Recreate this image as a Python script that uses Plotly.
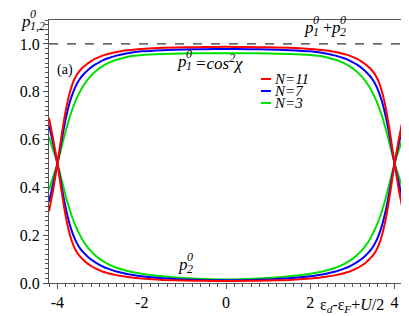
import plotly.graph_objects as go

# ---------------- data ----------------
x_half = [-4.2, -4.15, -4.1, -4.05, -4.0, -3.95, -3.9, -3.85, -3.8, -3.75, -3.7,
          -3.65, -3.6, -3.55, -3.5, -3.45, -3.4, -3.3, -3.2, -3.1, -3.0, -2.9,
          -2.8, -2.6, -2.4, -2.2, -2.0, -1.5, -1.0, -0.5, 0.0]

p1_N11_half = [0.30, 0.345, 0.39, 0.445, 0.50, 0.558, 0.618, 0.674, 0.724, 0.766, 0.801,
               0.829, 0.851, 0.868, 0.881, 0.892, 0.901, 0.916, 0.928, 0.938, 0.946, 0.953,
               0.958, 0.966, 0.972, 0.976, 0.979, 0.984, 0.986, 0.987, 0.988]
p1_N7_half = [0.34, 0.378, 0.418, 0.458, 0.50, 0.5475, 0.597, 0.645, 0.689, 0.727, 0.76,
              0.787, 0.81, 0.829, 0.845, 0.858, 0.869, 0.887, 0.902, 0.914, 0.924, 0.933,
              0.940, 0.951, 0.959, 0.965, 0.969, 0.974, 0.977, 0.978, 0.979]
p1_N3_half = [0.39, 0.418, 0.445, 0.472, 0.50, 0.533, 0.5685, 0.604, 0.638, 0.6695, 0.6985,
              0.7245, 0.748, 0.769, 0.788, 0.805, 0.8205, 0.8465, 0.8675, 0.8845, 0.8985, 0.910,
              0.9195, 0.9335, 0.9435, 0.950, 0.954, 0.958, 0.960, 0.961, 0.961]

p2_N11_half = [0.69, 0.645, 0.60, 0.55, 0.50, 0.442, 0.382, 0.326, 0.276, 0.234, 0.199,
               0.171, 0.149, 0.132, 0.119, 0.108, 0.099, 0.083, 0.071, 0.061, 0.053, 0.046,
               0.041, 0.033, 0.027, 0.022, 0.019, 0.013, 0.010, 0.009, 0.008]
p2_N7_half = [0.66, 0.622, 0.582, 0.542, 0.50, 0.452, 0.403, 0.355, 0.311, 0.273, 0.24,
              0.213, 0.19, 0.171, 0.155, 0.142, 0.131, 0.113, 0.098, 0.086, 0.076, 0.067,
              0.060, 0.048, 0.040, 0.033, 0.028, 0.020, 0.015, 0.012, 0.011]
p2_N3_half = [0.61, 0.582, 0.555, 0.528, 0.50, 0.467, 0.431, 0.396, 0.362, 0.33, 0.301,
              0.275, 0.252, 0.231, 0.212, 0.195, 0.179, 0.153, 0.132, 0.115, 0.101, 0.089,
              0.079, 0.064, 0.053, 0.045, 0.039, 0.028, 0.021, 0.017, 0.015]

series_names = ["N=11", "N=7", "N=3"]
series_colors = ["#ff0000", "#0000ff", "#00e000"]
x_range = [-4.2, 4.2]
y_range = [0.0, 1.1]
x_tickvals = [-4, -2, 0, 2, 4]
x_ticktext = ["-4", "-2", "0", "2", "4"]
sum_level = 1.0


def mirror(xs, ys):
    """curves are symmetric about 0: build full curve from the left half"""
    fx = xs + [-v for v in reversed(xs[:-1])]
    fy = ys + list(reversed(ys[:-1]))
    return fx, fy


p1_sets = [p1_N11_half, p1_N7_half, p1_N3_half]
p2_sets = [p2_N11_half, p2_N7_half, p2_N3_half]

SERIF = "Liberation Serif"

fig = go.Figure()

# dashed p1+p2 = 1 line
fig.add_trace(go.Scatter(x=x_range, y=[sum_level, sum_level], mode="lines",
                         line=dict(color="black", width=1, dash="dash"),
                         showlegend=False, hoverinfo="skip"))

# draw green first so red ends on top
for i in [2, 1, 0]:
    for ys in (p1_sets[i], p2_sets[i]):
        fx, fy = mirror(x_half, ys)
        fig.add_trace(go.Scatter(x=fx, y=fy, mode="lines",
                                 line=dict(color=series_colors[i], width=2, shape="spline",
                                           smoothing=0.6),
                                 name=series_names[i], showlegend=False))

# invisible trace on the overlay axes that carry the minor ticks
fig.add_trace(go.Scatter(x=x_range, y=y_range, xaxis="x2", yaxis="y2", mode="lines",
                         line=dict(width=0), opacity=0, showlegend=False,
                         hoverinfo="skip"))

# plot-area geometry (pixels)
W, H = 409, 316
L, R, T, B = 41, 14, 12, 41
PW, PH = W - L - R, H - T - B


def px(xp):
    return (xp - L) / PW


def py(yp):
    return (H - B - yp) / PH


ann = []


def text(xp, yp, s, size, italic=False, anchor="left"):
    ann.append(dict(x=px(xp), y=py(yp), xref="paper", yref="paper",
                    text=f"<i>{s}</i>" if italic else s,
                    showarrow=False, xanchor=anchor, yanchor="middle",
                    font=dict(family=SERIF, size=size, color="black")))


def stacked_p(xp, yp, sup, sub, size=17):
    # 'p' with superscript and subscript stacked on top of each other
    text(xp, yp, "p", size, italic=True)
    text(xp + 0.5 * size, yp - 0.42 * size, sup, round(size * 0.68), italic=True)
    text(xp + 0.5 * size, yp + 0.28 * size, sub, round(size * 0.68), italic=True)


# y axis label  p^0_{1,2}
stacked_p(11, 13, "0", "1,2", 17)
# (a)
text(47, 62, "(a)", 14)
# p1^0 + p2^0
stacked_p(294, 19, "0", "1", 17)
text(313, 19, "+", 16)
stacked_p(321, 19, "0", "2", 17)
# p1^0 = cos^2 chi
stacked_p(167, 53, "0", "1", 17)
text(185, 54, "=cos<sup>2</sup>χ", 17, italic=True)
# p2^0
stacked_p(168, 256, "0", "2", 17)
# x axis title
text(344, 297, "ε<sub><i>d</i></sub>-ε<sub><i>F</i></sub>+<i>U</i>/2", 16, anchor="center")

# manual compact legend
leg_x0, leg_x1, leg_y0, leg_dy = 253, 263, 71, 12
shapes = []
for i, name in enumerate(series_names):
    yy = leg_y0 + i * leg_dy
    shapes.append(dict(type="line", xref="paper", yref="paper",
                       x0=px(leg_x0), x1=px(leg_x1), y0=py(yy), y1=py(yy),
                       line=dict(color=series_colors[i], width=2)))
    text(leg_x1 + 1, yy, name, 15, italic=True)

axis_common = dict(showline=True, mirror=True, linecolor="#555555", linewidth=1.2,
                   ticks="outside", tickcolor="#555555", tickwidth=1, ticklen=5,
                   showgrid=False, zeroline=False,
                   tickfont=dict(family=SERIF, size=16, color="black"))
minor_common = dict(showline=False, ticks="outside", tickcolor="#555555", tickwidth=1,
                    ticklen=3, showgrid=False, zeroline=False, showticklabels=False)

fig.update_layout(
    width=W, height=H,
    margin=dict(l=L, r=R, t=T, b=B),
    paper_bgcolor="white", plot_bgcolor="white",
    showlegend=False,
    font=dict(family=SERIF, color="black"),
    annotations=ann,
    shapes=shapes,
    xaxis=dict(range=x_range, tickmode="array", tickvals=x_tickvals, ticktext=x_ticktext,
               **axis_common),
    yaxis=dict(range=y_range, dtick=0.2, tick0=0, tickformat=".1f", **axis_common),
    xaxis2=dict(range=x_range, dtick=0.2, tick0=0, overlaying="x", anchor="y2",
                side="bottom", **minor_common),
    yaxis2=dict(range=y_range, dtick=0.02, tick0=0, overlaying="y", anchor="x2",
                side="left", **minor_common),
)

fig.write_html("out.html")
